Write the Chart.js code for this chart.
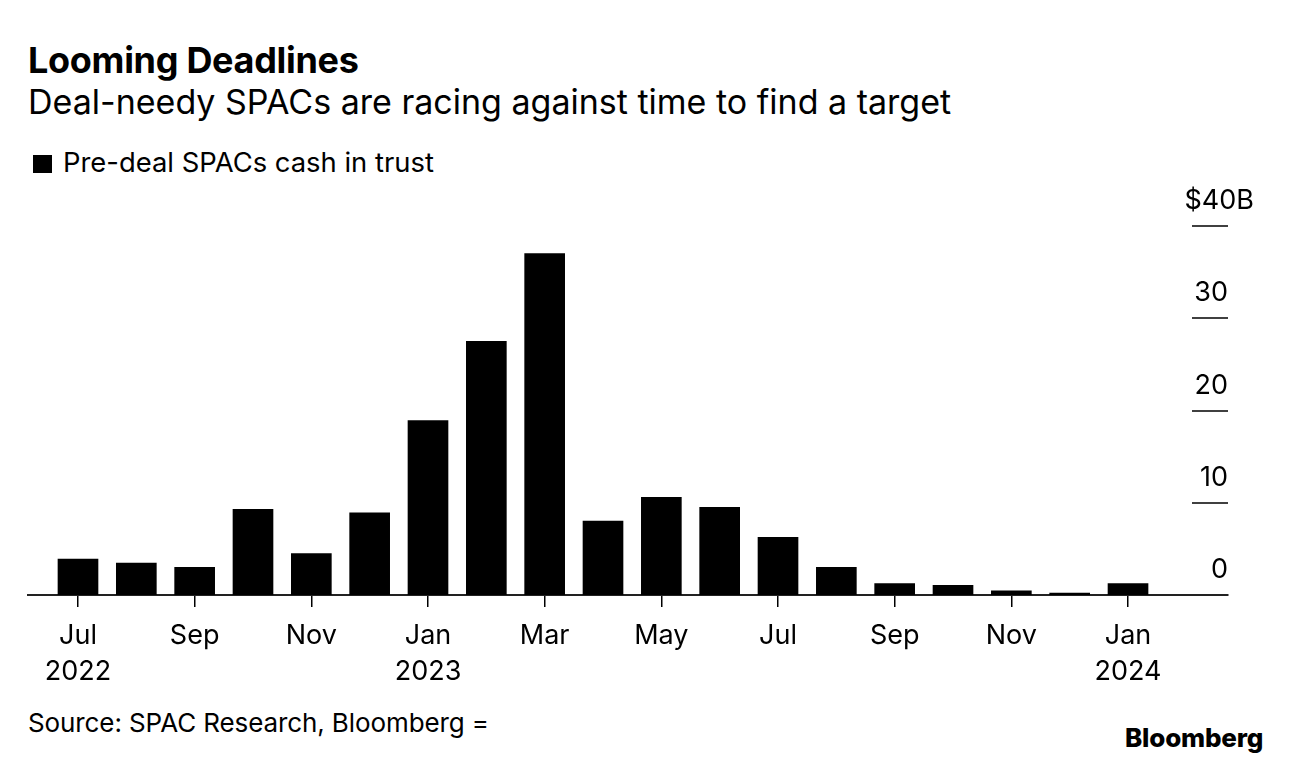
<!DOCTYPE html>
<html><head><meta charset="utf-8">
<script src="https://cdn.jsdelivr.net/npm/chart.js@4.4.1/dist/chart.umd.min.js"></script>
<style>
html,body{margin:0;padding:0;background:#fff;}
body{width:1292px;height:764px;position:relative;overflow:hidden;font-family:Inter,"Liberation Sans",Arial,sans-serif;color:#000;}
.t{position:absolute;white-space:nowrap;line-height:1;}
#title{left:28px;top:42px;font-size:36px;font-weight:700;letter-spacing:-0.3px;}
#sub{left:28px;top:85px;font-size:34px;}
#sw{position:absolute;left:33px;top:155px;width:19px;height:18px;background:#000;}
#leg{left:63px;top:149px;font-size:27.4px;}
#src{left:28px;top:710px;font-size:26px;letter-spacing:-0.1px;}
#logo{left:1125px;top:725px;font-size:26px;font-weight:800;letter-spacing:-0.2px;}
#wrap{position:absolute;left:0;top:0;width:1292px;height:764px;}
</style></head>
<body>
<div class="t" id="title">Looming Deadlines</div>
<div class="t" id="sub">Deal-needy SPACs are racing against time to find a target</div>
<div id="sw"></div>
<div class="t" id="leg">Pre-deal SPACs cash in trust</div>
<div class="t" id="src">Source: SPAC Research, Bloomberg =</div>
<div class="t" id="logo">Bloomberg</div>
<div id="wrap"><canvas id="c" width="1292" height="764"></canvas></div>
<script>
// Data (monthly, Jul 2022 – Jan 2024), $B
const months = ['Jul','Aug','Sep','Oct','Nov','Dec','Jan','Feb','Mar','Apr','May','Jun','Jul','Aug','Sep','Oct','Nov','Dec','Jan'];
const years  = ['2022','2022','2022','2022','2022','2022','2023','2023','2023','2023','2023','2023','2023','2023','2023','2023','2023','2023','2024'];
const cashInTrust = [3.9,3.45,3.0,9.3,4.5,8.9,18.9,27.5,37.0,8.0,10.6,9.5,6.25,3.0,1.25,1.05,0.45,0.2,1.25];
const xTickIndex = [0,2,4,6,8,10,12,14,16,18];
const xTickLabels = [['Jul','2022'],'Sep','Nov',['Jan','2023'],'Mar','May','Jul','Sep','Nov',['Jan','2024']];
const yTickValues = [0,10,20,30,40];
const yTickLabels = ['0','10','20','30','$40B'];

const FONT = 'Inter, "Liberation Sans", Arial, sans-serif';

const yTickPlugin = {
  id: 'yticks',
  afterDraw(chart) {
    const {ctx, chartArea, scales: {y}} = chart;
    ctx.save();
    ctx.font = '27px ' + FONT;
    ctx.fillStyle = '#000';
    ctx.textAlign = 'right';
    ctx.textBaseline = 'alphabetic';
    yTickValues.forEach((v, i) => {
      const py = Math.round(y.getPixelForValue(v));
      if (v !== 0) {
        ctx.strokeStyle = '#000';
        ctx.lineWidth = 1.5;
        ctx.beginPath();
        ctx.moveTo(chartArea.right - 36, py);
        ctx.lineTo(chartArea.right, py);
        ctx.stroke();
      }
      const label = yTickLabels[i];
      let x = chartArea.right;
      if (label.endsWith('B')) x += 26;
      ctx.fillText(label, x, py - 17);
    });
    ctx.restore();
  }
};

new Chart(document.getElementById('c'), {
  type: 'bar',
  data: {
    datasets: [{
      label: 'Pre-deal SPACs cash in trust',
      data: cashInTrust.map((v, i) => ({x: i, y: v})),
      backgroundColor: '#000',
      borderWidth: 0,
      barThickness: 40
    }]
  },
  options: {
    responsive: false,
    animation: false,
    events: [],
    layout: {padding: {left: 28, right: 64, top: 226, bottom: 74}},
    plugins: {legend: {display: false}, title: {display: false}, tooltip: {enabled: false}},
    scales: {
      x: {
        type: 'linear',
        offset: false,
        min: -0.857,
        max: 19.714,
        afterBuildTicks: s => { s.ticks = xTickIndex.map(v => ({value: v})); },
        afterFit: s => { s.height = 95; },
        grid: {display: true, offset: false, drawOnChartArea: false, drawTicks: true, tickLength: 12, color: '#000', lineWidth: 1.5},
        border: {display: true, color: '#222', width: 2},
        ticks: {
          autoSkip: false,
          maxRotation: 0,
          padding: 11,
          color: '#000',
          font: {family: FONT, size: 27, lineHeight: '36px'},
          callback: (v) => { const k = xTickIndex.indexOf(v); return k >= 0 ? xTickLabels[k] : ''; }
        }
      },
      y: {
        type: 'linear',
        min: 0,
        max: 40,
        display: false
      }
    }
  },
  plugins: [yTickPlugin]
});
</script>
</body></html>
